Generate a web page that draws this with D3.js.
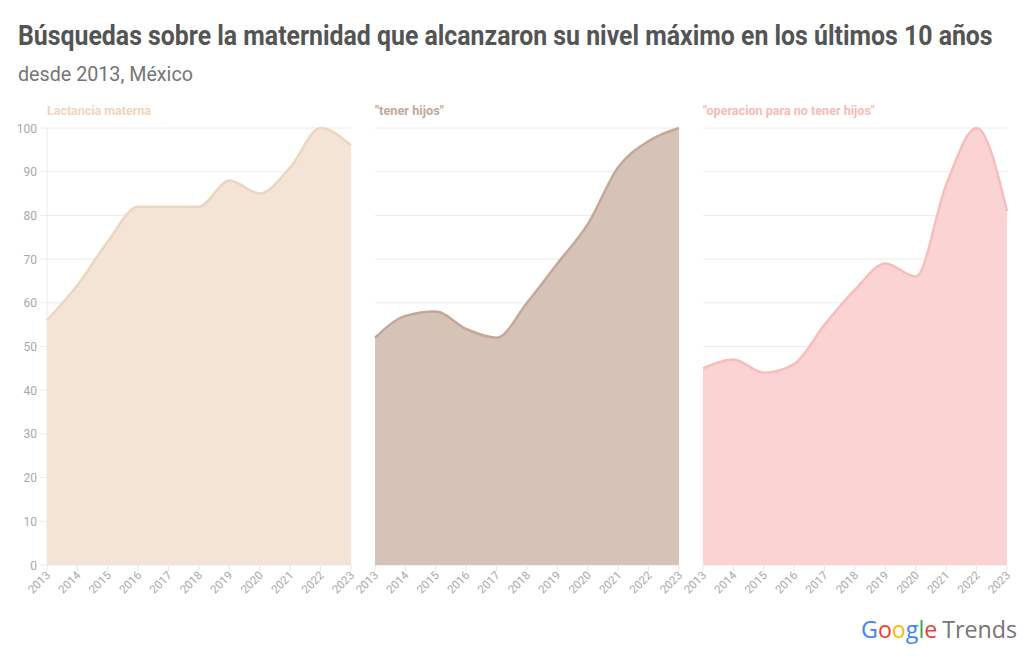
<!DOCTYPE html>
<html><head><meta charset="utf-8">
<script src="https://cdn.jsdelivr.net/npm/d3@7"></script>
<style>
body{margin:0;background:#fff;}
svg{display:block;font-family:Roboto,"Noto Sans",sans-serif;}
</style></head>
<body><svg id="c" width="1034" height="668"></svg>
<script>
const years = [2013,2014,2015,2016,2017,2018,2019,2020,2021,2022,2023];
const seriesNames = ["Lactancia materna", "\"tener hijos\"", "\"operacion para no tener hijos\""];
const lactancia = [56,64,74,82,82,82,88,85,91,100,96];
const tenerHijos = [52,57,58,54,52,60,69,78,91,97,100];
const operacion = [45,47,44,46,55,63,69,66,87,100,81];
const yTicks = [0,10,20,30,40,50,60,70,80,90,100];
const fills = ["#f3e4d6","#d5c3b7","#fbd3d3"];
const strokes = ["#ecd6c0","#c5a898","#f8bdbc"];
const titleColors = ["#efd6c0","#c4a898","#f9bab9"];

const svg = d3.select("#c");

// fit a text horizontally to a target width by scaling its group
function fitText(x, yPos, target, attrs, str){
  const g = svg.append("g");
  const t = g.append("text").attr("x",0).attr("y",0).text(str);
  Object.entries(attrs).forEach(([k,v])=>t.attr(k,v));
  const len = t.node().getComputedTextLength();
  const s = target/len;
  g.attr("transform",`translate(${x},${yPos}) scale(${s},1)`);
  return t;
}
fitText(18,45,975,{"font-size":27,"font-weight":700,"fill":"#545454"},
  "Búsquedas sobre la maternidad que alcanzaron su nivel máximo en los últimos 10 años");
fitText(18,81,175,{"font-size":20,"fill":"#757575"},"desde 2013, México");

const data = [lactancia, tenerHijos, operacion];
const panelX = [47,375,703];
const pw = 304;
const y = d3.scaleLinear().domain([0,100]).range([565,128]);

data.forEach((vals,i)=>{
  const x = d3.scaleLinear().domain([2013,2023]).range([panelX[i], panelX[i]+pw]);
  const g = svg.append("g");
  g.selectAll("line.grid").data(yTicks).join("line")
    .attr("x1", i===0 ? panelX[i]-7 : panelX[i]).attr("x2", panelX[i]+pw)
    .attr("y1", d=>y(d)).attr("y2", d=>y(d))
    .attr("stroke","#ececec").attr("stroke-width",1);
  if(i===0){
    g.append("line").attr("x1",panelX[i]).attr("x2",panelX[i]).attr("y1",y(100)).attr("y2",y(0))
      .attr("stroke","#ececec");
    g.selectAll("text.yt").data(yTicks).join("text")
      .attr("x",37).attr("y",d=>y(d)+4.5).attr("text-anchor","end")
      .attr("font-size",12).attr("fill","#a8a8a8").text(d=>d);
  }
  const pts = years.map((yr,k)=>[yr,vals[k]]);
  const area = d3.area().x(d=>x(d[0])).y0(y(0)).y1(d=>y(d[1])).curve(d3.curveMonotoneX);
  const line = d3.line().x(d=>x(d[0])).y(d=>y(d[1])).curve(d3.curveMonotoneX);
  g.append("path").attr("d",area(pts)).attr("fill",fills[i]);
  g.append("path").attr("d",line(pts)).attr("fill","none").attr("stroke",strokes[i]).attr("stroke-width",2.5);
  g.selectAll("line.xt").data(years).join("line")
    .attr("x1",d=>x(d)).attr("x2",d=>x(d)).attr("y1",565).attr("y2",571)
    .attr("stroke","#e6e6e6");
  g.selectAll("text.xl").data(years).join("text")
    .attr("transform",d=>`translate(${x(d)+4},${576}) rotate(-45)`)
    .attr("text-anchor","end").attr("font-size",11.5).attr("fill","#a8a8a8").text(d=>d);
  fitText(panelX[i],115,[104,69,172][i],{"font-size":13,"font-weight":700,"fill":titleColors[i]},seriesNames[i]);
});

const logo = svg.append("text").attr("x",861).attr("y",638).attr("font-size",24)
  .attr("font-family","'Open Sans',Roboto,sans-serif").attr("textLength",156).attr("lengthAdjust","spacingAndGlyphs");
const letters = [["G","#4285f4"],["o","#ea4335"],["o","#fbbc05"],["g","#4285f4"],["l","#34a853"],["e","#ea4335"]];
letters.forEach(([c,col])=>logo.append("tspan").attr("fill",col).text(c));
logo.append("tspan").attr("fill","#757575").attr("dx",5).text("Trends");
</script></body></html>
